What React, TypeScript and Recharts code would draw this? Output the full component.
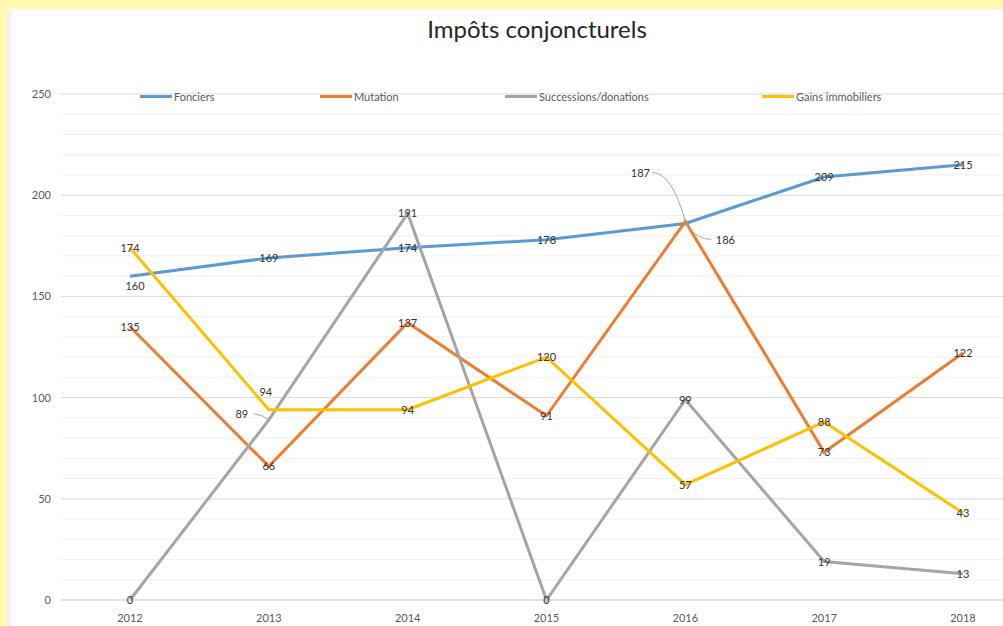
import React from "react";
import {
  LineChart,
  Line,
  XAxis,
  YAxis,
  CartesianGrid,
  ReferenceLine,
} from "recharts";

const years = ["2012", "2013", "2014", "2015", "2016", "2017", "2018"];
const fonciers = [160, 169, 174, 178, 186, 209, 215];
const mutation = [135, 66, 137, 91, 187, 73, 122];
const successions = [0, 89, 191, 0, 99, 19, 13];
const gains = [174, 94, 94, 120, 57, 88, 43];

const yTicks = [0, 50, 100, 150, 200, 250];
const minorTicks = [10, 20, 30, 40, 60, 70, 80, 90, 110, 120, 130, 140, 160, 170, 180, 190, 210, 220, 230, 240];

const series = [
  { key: "fonciers", name: "Fonciers", color: "#5B9BD5", values: fonciers },
  { key: "mutation", name: "Mutation", color: "#ED7D31", values: mutation },
  { key: "successions", name: "Successions/donations", color: "#A5A5A5", values: successions },
  { key: "gains", name: "Gains immobiliers", color: "#FFC000", values: gains },
];

const data = years.map((year, i) => {
  const row: any = { year };
  series.forEach((s) => {
    row[s.key] = s.values[i];
  });
  return row;
});

// label nudges (dx, dy, leader line) for labels moved off their point
const labelNudges: Record<string, Record<number, [number, number, boolean]>> = {
  fonciers: { 0: [5, 10, false], 4: [40, 16, true] },
  mutation: { 4: [-45, -49, true] },
  successions: { 1: [-27, -6, true] },
  gains: { 1: [-3, -18, false] },
};

const legendX = [140, 320, 505, 762];

const FONT = "Lato, 'Open Sans', sans-serif";

const makeLabel = (key: string) => (props: any) => {
  const { x, y, value, index } = props;
  const nudge = labelNudges[key]?.[index];
  const dx = nudge ? nudge[0] : 0;
  const dy = nudge ? nudge[1] : 0;
  const lx = x + dx;
  const ly = y + dy;
  return (
    <g key={`${key}-${index}`}>
      {nudge && nudge[2] ? (
        <path
          d={`M${lx + (dx < 0 ? 12 : -14)},${ly} Q${x + dx * 0.3},${ly} ${x},${y}`}
          fill="none"
          stroke="#a6a6a6"
          strokeWidth={1}
        />
      ) : null}
      <text
        x={lx}
        y={ly}
        dy={4}
        textAnchor="middle"
        fontSize={11}
        fontFamily={FONT}
        fill="#333"
      >
        {value}
      </text>
    </g>
  );
};

const ChartLegend = () => (
  <div style={{ position: "absolute", left: 0, top: 90, height: 16 }}>
    {series.map((s, i) => (
      <div
        key={s.key}
        style={{
          position: "absolute",
          left: legendX[i],
          top: 0,
          display: "flex",
          alignItems: "center",
          fontFamily: FONT,
          fontSize: 11,
          color: "#595959",
          whiteSpace: "nowrap",
        }}
      >
        <span
          style={{
            display: "inline-block",
            width: 32,
            height: 3,
            background: s.color,
            marginRight: 2,
          }}
        />
        {s.name}
      </div>
    ))}
  </div>
);

export default function App() {
  return (
    <div
      style={{
        position: "fixed",
        left: 0,
        top: 0,
        width: 1003,
        height: 626,
        overflow: "hidden",
        background: "#FFF9B0",
      }}
    >
      <div
        style={{
          position: "absolute",
          left: 7,
          top: 9,
          width: 1100,
          height: 700,
          background: "#fff",
          boxShadow: "inset 14px 0 6px -10px #eee",
        }}
      />
      <div
        style={{
          position: "absolute",
          left: 537,
          top: 14,
          transform: "translateX(-50%)",
          fontFamily: FONT,
          fontSize: 24,
          color: "#262626",
          whiteSpace: "nowrap",
        }}
      >
        Impôts conjoncturels
      </div>
      <div style={{ position: "absolute", left: 0, top: 0 }}>
        <LineChart
          width={1003}
          height={626}
          data={data}
          margin={{ top: 94, right: 0, bottom: 6, left: 11 }}
        >
          <CartesianGrid vertical={false} stroke="#d9d9d9" />
          {minorTicks.map((t) => (
            <ReferenceLine key={t} y={t} stroke="#f1f1f1" strokeWidth={1} />
          ))}
          <XAxis
            dataKey="year"
            axisLine={{ stroke: "#d9d9d9" }}
            tickLine={false}
            tickMargin={8}
            height={20}
            padding={{ left: 69, right: 40 }}
            tick={{ fontSize: 11, fill: "#595959", fontFamily: FONT }}
          />
          <YAxis
            domain={[0, 250]}
            ticks={yTicks}
            width={50}
            axisLine={false}
            tickLine={false}
            tickSize={0}
            tickMargin={10}
            tick={{ fontSize: 11, fill: "#595959", fontFamily: FONT }}
          />
          {series.map((s) => (
            <Line
              key={s.key}
              dataKey={s.key}
              name={s.name}
              type="linear"
              stroke={s.color}
              strokeWidth={3}
              dot={false}
              activeDot={false}
              isAnimationActive={false}
              label={makeLabel(s.key)}
            />
          ))}
        </LineChart>
      </div>
      <ChartLegend />
    </div>
  );
}
